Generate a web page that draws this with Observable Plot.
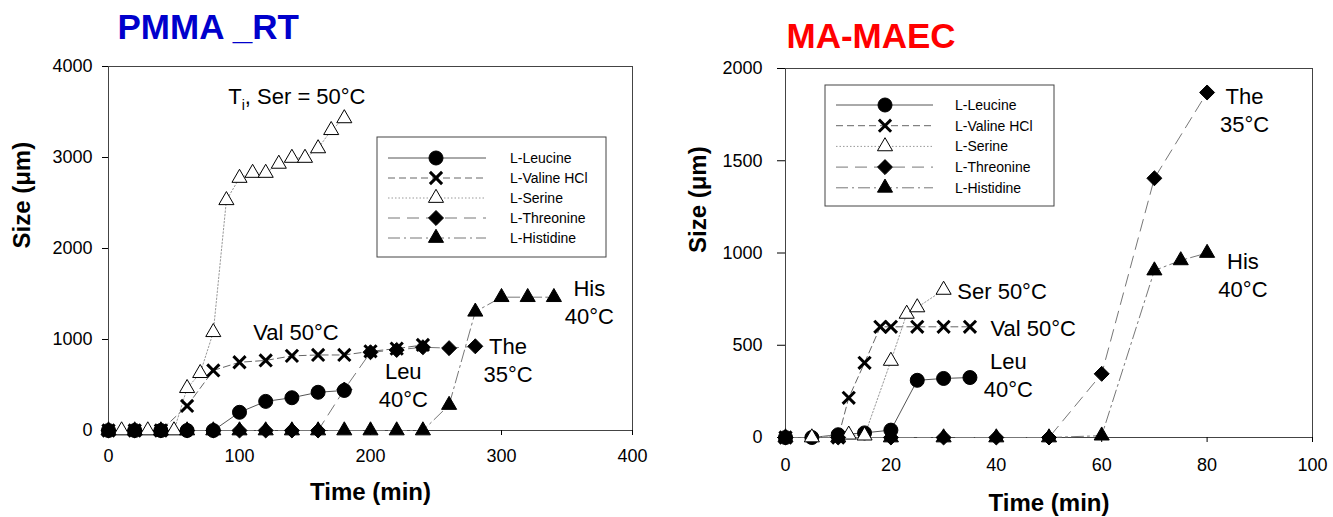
<!DOCTYPE html>
<html><head><meta charset="utf-8">
<script src="https://cdn.jsdelivr.net/npm/d3@7"></script>
<script src="https://cdn.jsdelivr.net/npm/@observablehq/plot@0.6"></script>
<style>
html,body{margin:0;padding:0;background:#fff;}
#wrap{display:flex;width:1333px;height:517px;overflow:hidden;}
</style></head><body><div id="wrap"></div>
<script>
// ---- PMMA_RT : [time (min), size (µm)] ----
const pmmaLeucine   = [[0,0],[20,0],[40,0],[60,0],[80,0],[100,200],[120,320],[140,360],[160,420],[180,440]];
const pmmaValine    = [[0,0],[20,0],[40,0],[60,270],[80,660],[100,750],[120,770],[140,820],[160,830],[180,830],[200,870],[220,900],[240,940]];
const pmmaSerine    = [[10,0],[30,0],[50,0],[60,465],[70,630],[80,1080],[90,2530],[100,2775],[110,2830],[120,2830],[130,2930],[140,2995],[150,2995],[160,3100],[170,3300],[180,3430]];
const pmmaThreonine = [[0,0],[20,0],[40,0],[60,0],[80,0],[100,0],[120,0],[140,0],[160,0],[180,450],[200,860],[220,885],[240,915],[260,905],[280,925]];
const pmmaHistidine = [[0,0],[20,0],[40,0],[60,0],[80,0],[100,0],[120,0],[140,0],[160,0],[180,0],[200,0],[220,0],[240,0],[260,280],[280,1305],[300,1465],[320,1465],[340,1465]];
const pmmaXTicks = [0,100,200,300,400];
const pmmaYTicks = [0,1000,2000,3000,4000];

// ---- MA-MAEC : [time (min), size (µm)] ----
const maecLeucine   = [[0,0],[5,0],[10,15],[15,25],[20,40],[25,310],[30,320],[35,325]];
const maecValine    = [[0,0],[10,0],[12,215],[15,405],[18,600],[20,600],[25,600],[30,600],[35,600]];
const maecSerine    = [[5,0],[12,15],[15,10],[20,415],[23,670],[25,705],[30,800]];
const maecThreonine = [[0,0],[10,0],[20,0],[30,0],[40,0],[50,0],[60,345],[70,1405],[80,1870]];
const maecHistidine = [[0,0],[10,0],[20,0],[30,0],[40,0],[50,0],[60,10],[70,905],[75,960],[80,1000]];
const maecXTicks = [0,20,40,60,80,100];
const maecYTicks = [0,500,1000,1500,2000];

const seriesNames = ["Leucine","Valine","Serine","Threonine","Histidine"];
const seriesLabels = ["L-Leucine","L-Valine HCl","L-Serine","L-Threonine","L-Histidine"];

// annotation texts anchored in data space
const pmmaNotes = [
  {text:"Ti, Ser = 50°C", t:91.4, v:3687, anchor:"start"},
  {text:"Val 50°C", t:110.5, v:1097, anchor:"start"},
  {text:"Leu\n40°C", t:225, v:511, anchor:"middle"},
  {text:"The\n35°C", t:305, v:786, anchor:"middle"},
  {text:"His\n40°C", t:367, v:1423, anchor:"middle"}
];
const maecNotes = [
  {text:"The\n35°C", t:87.1, v:1778, anchor:"middle"},
  {text:"His\n40°C", t:86.8, v:886, anchor:"middle"},
  {text:"Ser 50°C", t:32.6, v:797, anchor:"start"},
  {text:"Val 50°C", t:38.9, v:598, anchor:"start"},
  {text:"Leu\n40°C", t:42.3, v:345, anchor:"middle"}
];

// ---- styles ----
const styles = {
  Leucine:   {symbol:"circle",   d3sym:d3.symbolCircle,   r:7,    fill:"black", stroke:"black", sw:1, line:"#555", dash:undefined},
  Valine:    {symbol:"times",    d3sym:d3.symbolTimes,    r:5.6,  fill:"none",  stroke:"black", sw:3, line:"#666", dash:"7,4"},
  Serine:    {symbol:"triangle", d3sym:d3.symbolTriangle, r:5.6,  fill:"white", stroke:"black", sw:1, line:"#999", dash:"1.5,2"},
  Threonine: {symbol:"diamond2", d3sym:d3.symbolDiamond2, r:6.75, fill:"black", stroke:"black", sw:1, line:"#777", dash:"12,7"},
  Histidine: {symbol:"triangle", d3sym:d3.symbolTriangle, r:5.6,  fill:"black", stroke:"black", sw:1, line:"#777", dash:"12,4,2,4"}
};
const dotOrder = ["Leucine","Valine","Serine","Histidine","Threonine"];
const FONT = "'Liberation Sans', Arial, Helvetica, sans-serif";

function chart(cfg){
  const marks = [
    Plot.frame({stroke:"#444"}),
    Plot.axisX({ticks:cfg.xTicks, tickSize:5, tickPadding:cfg.xPad, fontSize:18, label:null, tickFormat:d=>String(d)}),
    Plot.axisY({ticks:cfg.yTicks, tickSize:cfg.ySize, tickPadding:cfg.yPad, fontSize:18, label:null, tickFormat:d=>String(d)})
  ];
  for (const k of seriesNames){
    const s = styles[k];
    marks.push(Plot.line(cfg.data[k], {x:d=>d[0], y:d=>d[1], stroke:s.line, strokeWidth:1, strokeDasharray:s.dash}));
  }
  for (const k of dotOrder){
    const s = styles[k];
    marks.push(Plot.dot(cfg.data[k], {x:d=>d[0], y:d=>d[1], symbol:s.symbol, r:s.r, fill:s.fill, stroke:s.stroke, strokeWidth:s.sw}));
  }
  for (const anchor of ["start","middle"]){
    marks.push(Plot.text(cfg.notes.filter(n=>n.anchor===anchor), {x:"t", y:"v", text:"text", textAnchor:anchor, lineAnchor:"middle", fontSize:22, lineHeight:1.27, fill:"black"}));
  }
  marks.push(Plot.text([cfg.title], {frameAnchor:"top-left", textAnchor:"start", lineAnchor:"middle", dx:cfg.titleDx, dy:cfg.titleDy, fontSize:35, fontWeight:"bold", fill:cfg.titleColor}));
  marks.push(Plot.text(["Size (μm)"], {frameAnchor:"left", rotate:-90, dx:cfg.yLabelDx, fontSize:24, fontWeight:"bold", fill:"black"}));
  marks.push(Plot.text(["Time (min)"], {frameAnchor:"bottom", lineAnchor:"middle", dy:cfg.xLabelDy, fontSize:24, fontWeight:"bold", fill:"black"}));

  const svg = Plot.plot({
    width:cfg.width, height:517,
    marginLeft:cfg.ml, marginRight:cfg.mr, marginTop:cfg.mt, marginBottom:cfg.mb,
    x:{domain:cfg.xDomain}, y:{domain:cfg.yDomain},
    style:{fontFamily:FONT, background:"white", color:"black", overflow:"visible"},
    marks
  });

  // subscript for "Ti"
  d3.select(svg).selectAll("text").each(function(){
    if (this.textContent === "Ti, Ser = 50°C"){
      const t = d3.select(this); t.text(null);
      t.append("tspan").text("T");
      t.append("tspan").attr("dy", 6).attr("font-size", 14).text("i");
      t.append("tspan").attr("dy", -6).text(", Ser = 50°C");
    }
  });

  // legend box
  const L = cfg.legend;
  const g = d3.select(svg).append("g").attr("transform", `translate(${L.x},${L.y})`).attr("text-anchor","start");
  g.append("rect").attr("width", L.w).attr("height", L.h).attr("fill","white").attr("stroke","#444");
  seriesNames.forEach((k,i)=>{
    const s = styles[k], y = L.row0 + i*L.step;
    g.append("line").attr("x1", L.lx0).attr("x2", L.lx1).attr("y1", y).attr("y2", y)
      .attr("stroke", s.line).attr("stroke-width", 1).attr("stroke-dasharray", s.dash || null);
    g.append("path").attr("transform", `translate(${L.sx},${y})`)
      .attr("d", d3.symbol(s.d3sym, Math.PI*s.r*s.r)())
      .attr("fill", s.fill).attr("stroke", s.stroke).attr("stroke-width", s.sw);
    g.append("text").attr("x", L.tx).attr("y", y).attr("dy","0.36em").attr("text-anchor","start")
      .attr("font-size", 14).attr("font-family", FONT).attr("fill","black").text(seriesLabels[i]);
  });
  return svg;
}

const left = chart({
  width:666, ml:108, mr:34, mt:66, mb:87,
  xDomain:[0,400], yDomain:[0,4000], xTicks:pmmaXTicks, yTicks:pmmaYTicks,
  xPad:14, ySize:6, yPad:10,
  data:{Leucine:pmmaLeucine, Valine:pmmaValine, Serine:pmmaSerine, Threonine:pmmaThreonine, Histidine:pmmaHistidine},
  notes:pmmaNotes,
  title:"PMMA _RT", titleColor:"#0000cc", titleDx:9, titleDy:-39,
  yLabelDx:-86, xLabelDy:62,
  legend:{x:377, y:137, w:229, h:120, row0:21, step:20, lx0:11, lx1:109, sx:59, tx:133}
});
const right = chart({
  width:667, ml:119, mr:21, mt:68, mb:80,
  xDomain:[0,100], yDomain:[0,2000], xTicks:maecXTicks, yTicks:maecYTicks,
  xPad:16, ySize:8, yPad:15,
  data:{Leucine:maecLeucine, Valine:maecValine, Serine:maecSerine, Threonine:maecThreonine, Histidine:maecHistidine},
  notes:maecNotes,
  title:"MA-MAEC", titleColor:"#ff0000", titleDx:1, titleDy:-32,
  yLabelDx:-87, xLabelDy:66,
  legend:{x:159, y:85, w:229, h:121, row0:20, step:20.7, lx0:11, lx1:108, sx:60, tx:130}
});
document.getElementById("wrap").append(left, right);
</script>
</body></html>
